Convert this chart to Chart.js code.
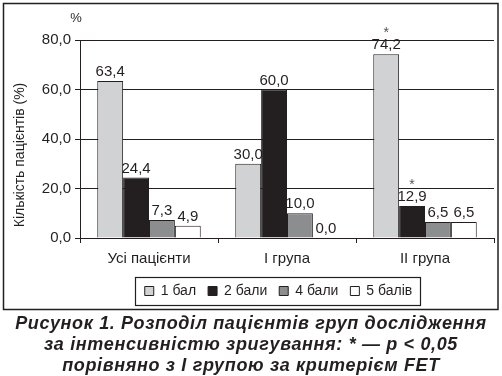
<!DOCTYPE html>
<html>
<head>
<meta charset="utf-8">
<script src="https://cdn.jsdelivr.net/npm/chart.js@4/dist/chart.umd.min.js"></script>
<style>
  html,body{margin:0;padding:0;background:#fff;}
  #wrap{position:relative;width:502px;height:376px;}
  #c{position:absolute;left:0;top:0;}
  #cap{position:absolute;left:0;top:313px;width:502px;text-align:center;
       font-family:"Liberation Sans",Arial,sans-serif;font-weight:bold;font-style:italic;
       font-size:18px;line-height:21px;letter-spacing:0.65px;color:#231f20;}
</style>
</head>
<body>
<div id="wrap">
  <canvas id="c" width="502" height="314"></canvas>
  <div id="cap">Рисунок 1. Розподіл пацієнтів груп дослідження<br>за інтенсивністю зригування: * — p &lt; 0,05<br>порівняно з І групою за критерієм FET</div>
</div>
<script>
const categories = ["Усі пацієнти", "І група", "ІІ група"];
const seriesNames = ["1 бал", "2 бали", "4 бали", "5 балів"];
const score1 = [63.4, 30.0, 74.2];
const score2 = [24.4, 60.0, 12.9];
const score4 = [7.3, 10.0, 6.5];
const score5 = [4.9, 0.0, 6.5];
const stars1 = [false, false, true];
const stars2 = [false, false, true];
const stars4 = [false, false, false];
const stars5 = [false, false, false];
const yTicks = [0, 20, 40, 60, 80];
const yTitle = "Кількість пацієнтів (%)";
const yUnit = "%";

const INK = "#231f20";
const FONT = "'Liberation Sans', Arial, sans-serif";
const fmt = v => v.toFixed(1).replace(".", ",");
const starSets = [stars1, stars2, stars4, stars5];
const LEGEND_CENTER_X = 278.5;

const extras = {
  id: "extras",
  afterLayout(chart) {
    const lg = chart.legend;
    if (!lg) return;
    const shift = LEGEND_CENTER_X - (lg.left + lg.right) / 2;
    lg.left += shift;
    lg.right += shift;
  },
  beforeDraw(chart) {
    const ctx = chart.ctx;
    ctx.save();
    ctx.strokeStyle = INK;
    ctx.lineWidth = 1.5;
    ctx.strokeRect(3.5, 3.5, 494.5, 306);
    ctx.restore();
  },
  afterDatasetsDraw(chart) {
    const ctx = chart.ctx;
    ctx.save();
    ctx.textAlign = "center";
    chart.data.datasets.forEach((ds, di) => {
      const meta = chart.getDatasetMeta(di);
      meta.data.forEach((el, i) => {
        ctx.font = "15px " + FONT;
        ctx.textBaseline = "alphabetic";
        ctx.fillStyle = INK;
        ctx.fillText(fmt(ds.data[i]), el.x, el.y - 5);
        if (starSets[di][i]) {
          ctx.font = "14px " + FONT;
          ctx.fillStyle = "#555";
          ctx.fillText("*", el.x, el.y - 17);
        }
      });
    });
    ctx.fillStyle = INK;
    ctx.font = "14px " + FONT;
    ctx.textBaseline = "middle";
    ctx.save();
    ctx.translate(20, 155);
    ctx.rotate(-Math.PI / 2);
    ctx.fillText(yTitle, 0, 0);
    ctx.restore();
    ctx.font = "13px " + FONT;
    ctx.fillText(yUnit, 76, 18);
    ctx.restore();
  },
  afterDraw(chart) {
    const hb = chart.legend.legendHitBoxes;
    if (!hb || !hb.length) return;
    let l = Infinity, r = -Infinity, t = Infinity, b = -Infinity;
    hb.forEach(h => { l = Math.min(l, h.left); r = Math.max(r, h.left + h.width); t = Math.min(t, h.top); b = Math.max(b, h.top + h.height); });
    const ctx = chart.ctx;
    ctx.save();
    ctx.strokeStyle = INK;
    ctx.lineWidth = 1.2;
    ctx.strokeRect(Math.round(l - 10) + 0.5, Math.round(t - 7) + 0.5, Math.round(r - l + 17), 28);
    ctx.restore();
  }
};

new Chart(document.getElementById("c"), {
  type: "bar",
  data: {
    labels: categories,
    datasets: [
      { label: seriesNames[0], data: score1, backgroundColor: "#d1d2d4" },
      { label: seriesNames[1], data: score2, backgroundColor: "#231f20" },
      { label: seriesNames[2], data: score4, backgroundColor: "#8c8d8f" },
      { label: seriesNames[3], data: score5, backgroundColor: "#ffffff" }
    ]
  },
  options: {
    responsive: false,
    animation: false,
    devicePixelRatio: 1,
    layout: { padding: { left: 30, right: 8, top: 40, bottom: 6 } },
    datasets: {
      bar: { categoryPercentage: 0.75, barPercentage: 1.0, borderWidth: 1, borderColor: INK }
    },
    plugins: {
      legend: {
        position: "bottom",
        labels: {
          font: { family: FONT, size: 14 },
          color: INK,
          boxWidth: 9,
          boxHeight: 9,
          padding: 12
        }
      },
      tooltip: { enabled: false },
      title: { display: false }
    },
    scales: {
      x: {
        afterFit: s => { s.height = 34; },
        grid: { display: true, drawOnChartArea: false, drawTicks: true, tickLength: 5, color: INK, offset: true },
        border: { display: true, color: INK, width: 1 },
        ticks: { font: { family: FONT, size: 15 }, color: INK, padding: 7 }
      },
      y: {
        min: 0, max: 80,
        afterFit: s => { s.width = 50; },
        afterBuildTicks: s => { s.ticks = yTicks.map(v => ({ value: v })); },
        grid: { color: INK, lineWidth: 1, drawTicks: true, tickLength: 5 },
        border: { display: true, color: INK, width: 1 },
        ticks: { font: { family: FONT, size: 15 }, color: INK, padding: 4, callback: v => fmt(v) }
      }
    }
  },
  plugins: [extras]
});
</script>
</body>
</html>
